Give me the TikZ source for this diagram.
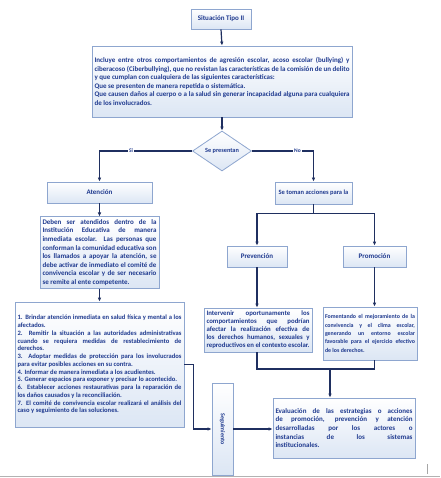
\documentclass[tikz,border=0pt]{standalone}
\usepackage{fontspec}
\setmainfont{Carlito}
\usepackage{graphicx}
\usetikzlibrary{shapes.geometric,arrows.meta,calc}
\definecolor{bordc}{HTML}{8EA6CF}
\definecolor{fillc}{HTML}{DCE6F4}
\definecolor{txtc}{HTML}{1F3A8F}
\definecolor{linec}{HTML}{1F2F60}
\newcommand{\nohyph}{\hyphenpenalty=10000\exhyphenpenalty=10000 }
\begin{document}
\begin{tikzpicture}[x=1pt,y=-1pt,
  box/.style={draw=bordc, line width=0.8pt, top color=white, bottom color=fillc, inner sep=2pt,
     text=txtc, font=\bfseries\fontsize{7}{8.6}\selectfont\nohyph, align=center},
  tbox/.style={box, align=justify, inner sep=2.5pt},
  arr/.style={draw=linec, line width=1.2pt, -{Latex[length=4pt,width=3.6pt]}},
  ln/.style={draw=linec, line width=1.2pt},
  lbl/.style={fill=white, text=txtc, font=\bfseries\fontsize{5.5}{6}\selectfont, inner sep=1pt}
]
\useasboundingbox (0,0) rectangle (440,478);
\fill[white] (0,0) rectangle (440,478);

\node[box, minimum width=60, minimum height=20] (title) at (221,19) {Situación Tipo II};

\node[tbox, text width=255, minimum height=71] (big) at (222,81.5) {Incluye entre otros comportamientos de agresión escolar, acoso escolar (bullying) y ciberacoso (Ciberbullying), que no revistan las características de la comisión de un delito y que cumplan con cualquiera de las siguientes características:\\
Que se presenten de manera repetida o sistemática.\\
Que causen daños al cuerpo o a la salud sin generar incapacidad alguna para cualquiera de los involucrados.};

\node[box, diamond, minimum width=59, minimum height=40, inner sep=0pt, font=\bfseries\fontsize{6.3}{7}\selectfont] (dia) at (222,151) {Se presentan};

\node[box, minimum width=105, minimum height=21] (at) at (99.5,192.5) {Atención};
\node[box, minimum width=77, minimum height=22, font=\bfseries\fontsize{6.5}{7}\selectfont] (toman) at (313.5,193) {Se toman acciones para la};

\node[tbox, text width=114, minimum height=69] (att) at (99.5,252.5) {Deben ser atendidos dentro de la Institución Educativa de manera inmediata escolar. Las personas que conforman la comunidad educativa son los llamados a apoyar la atención, se debe activar de inmediato el comité de convivencia escolar y de ser necesario se remite al ente competente.};

\node[tbox, text width=164, minimum height=125, font=\bfseries\fontsize{6.6}{7.75}\selectfont\nohyph] (num) at (99.5,364.5) {1. Brindar atención inmediata en salud física y mental a los afectados.\\
2. Remitir la situación a las autoridades administrativas cuando se requiera medidas de restablecimiento de derechos.\\
3. Adoptar medidas de protección para los involucrados para evitar posibles acciones en su contra.\\
4. Informar de manera inmediata a los acudientes.\\
5. Generar espacios para exponer y precisar lo acontecido.\\
6. Establecer acciones restaurativas para la reparación de los daños causados y la reconciliación.\\
7. El comité de convivencia escolar realizará el análisis del caso y seguimiento de las soluciones.};

\node[box, minimum width=60, minimum height=21] (prev) at (257,256.5) {Prevención};
\node[box, minimum width=63, minimum height=21] (prom) at (374.5,256.5) {Promoción};

\node[tbox, text width=103, minimum height=44, font=\bfseries\fontsize{6.8}{8}\selectfont\nohyph] (prevt) at (258,330) {Intervenir oportunamente los comportamientos que podrían afectar la realización efectiva de los derechos humanos, sexuales y reproductivos en el contexto escolar.};
\node[tbox, text width=90, inner sep=2pt, minimum height=53, font=\bfseries\fontsize{5.9}{8.4}\selectfont\nohyph] (promt) at (370,333.5) {Fomentando el mejoramiento de la\linebreak convivencia y el clima escolar,\linebreak generando un entorno escolar\linebreak favorable para el ejercicio efectivo\linebreak de los derechos.};

\node[tbox, text width=137, minimum height=60] (eval) at (344,428) {Evaluación de las estrategias o acciones de promoción, prevención y atención desarrolladas por los actores o\linebreak instancias de los sistemas\linebreak institucionales.};

\node[box, minimum width=21, minimum height=92, inner sep=0pt, font=\bfseries\fontsize{6}{7}\selectfont] (seg) at (222.5,429) {\rotatebox{-90}{Seguimiento}};

% connectors
\draw[arr] (title.south) -- (big.north);
\draw[arr] (big.south) -- (dia.north);
\draw[arr] (dia.west) -| node[lbl, pos=0.33]{Si} (at.north);
\draw[arr] (dia.east) -| node[lbl, pos=0.37]{No} (toman.north);
\draw[arr] (at.south) -- (att.north);
\draw[arr] (att.south) -- (num.north);
\draw[ln] (toman.south) -- ++(0,9) coordinate (j1);
\draw[arr] (j1) -| (prev.north);
\draw[arr] (j1) -| (prom.north);
\draw[arr] (prev.south) -- (prev.south |- prevt.north);
\draw[arr] (prom.south) -- (prom.south |- promt.north);
\coordinate (j2) at (330,369);
\draw[ln] (prevt.south -| prev.south) |- (j2) -| (promt.south -| prom.south);
\draw[arr] (j2) -- (j2 |- eval.north);
\draw[arr] (num.east) -- ++(9,0) |- (seg.west);
\draw[arr] (seg.east) -- (seg.east -| eval.west);

% page edge marks
\draw[gray!60, line width=1pt] (0,476.5) coordinate (pl) -- (440,476.5) coordinate (pr);
\draw[gray!70, line width=0.6pt] (427,464) coordinate (ma) -- (427,474) coordinate (mb);
\end{tikzpicture}
\end{document}
